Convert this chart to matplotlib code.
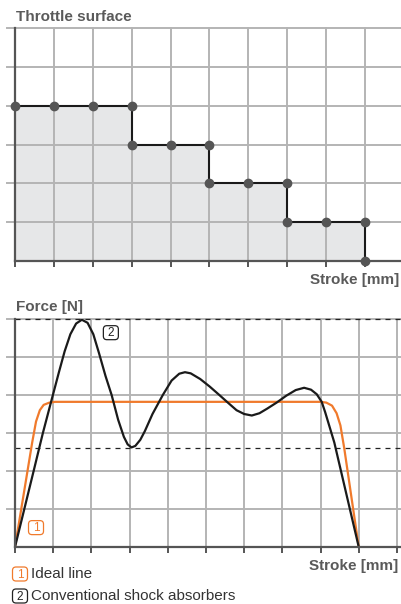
import matplotlib.pyplot as plt
from matplotlib.patches import FancyBboxPatch

plt.rcParams['font.family'] = ['Liberation Sans', 'DejaVu Sans']

# throttle surface steps (stroke position, relative area)
throttle_x = [0, 1, 2, 3, 3, 4, 5, 5, 6, 7, 7, 8, 9, 9]
throttle_y = [4, 4, 4, 4, 3, 3, 3, 2, 2, 2, 1, 1, 1, 0]

# ideal force curve
ideal_x = [0, 0.45, 0.55, 0.65, 0.75, 0.9, 1.05, 8.0, 8.15, 8.3, 8.42, 8.52, 8.62, 9.0]
ideal_y = [0, 2.75, 3.3, 3.6, 3.74, 3.8, 3.82, 3.82, 3.8, 3.72, 3.52, 3.2, 2.6, 0]

# conventional shock absorber force curve
conv_x = [0, 0.5, 0.73, 0.95, 1.15, 1.3, 1.45, 1.6, 1.75, 1.9, 2.05, 2.2, 2.37, 2.53,
          2.7, 2.85, 2.95, 3.05, 3.15, 3.28, 3.4, 3.6, 3.87, 4.1, 4.3, 4.45, 4.6,
          4.85, 5.1, 5.35, 5.55, 5.8, 6.0, 6.2, 6.4, 6.6, 6.85, 7.1, 7.35, 7.57,
          7.75, 7.9, 8.03, 8.12, 8.36, 9.0]
conv_y = [0, 2.05, 3.0, 3.84, 4.6, 5.15, 5.6, 5.88, 5.98, 5.9, 5.6, 5.1, 4.5, 4.0,
          3.35, 2.9, 2.7, 2.62, 2.66, 2.82, 3.05, 3.5, 4.0, 4.38, 4.56, 4.6, 4.57,
          4.42, 4.22, 4.0, 3.82, 3.6, 3.5, 3.46, 3.52, 3.64, 3.8, 3.98, 4.13, 4.19,
          4.14, 4.02, 3.82, 3.55, 2.75, 0]

peak_level = 6.0
min_level = 2.6

GRID = '#b4b4b4'
AXIS = '#555555'
LABEL = '#5a5a5a'
ORANGE = '#f07a2c'


def setup(ax, xmax, ngrid_x):
    ax.set_xlim(0, xmax)
    ax.set_ylim(0, 6)
    for s in ['top', 'right']:
        ax.spines[s].set_visible(False)
    for s in ['left', 'bottom']:
        ax.spines[s].set_color(AXIS)
        ax.spines[s].set_linewidth(1.6)
        ax.spines[s].set_zorder(4)
    for x in range(1, ngrid_x + 1):
        ax.axvline(x, color=GRID, lw=1.4, zorder=0.5, clip_on=False)
    for y in range(1, 7):
        ax.axhline(y, xmin=-0.02, color=GRID, lw=1.4, zorder=0.5, clip_on=False)
    ax.set_xticks(range(0, ngrid_x + 1))
    ax.set_yticks([])
    ax.set_xticklabels([])
    ax.tick_params(axis='x', direction='out', length=4, width=1.4, color=AXIS)
    ax.set_facecolor('none')


fig = plt.figure(figsize=(4.02, 6.04), dpi=100)

# --- throttle surface ---
ax1 = fig.add_axes([15 / 402, 343 / 604, 387 / 402, 233 / 604])
setup(ax1, 9.95, 9)
ax1.fill_between(throttle_x, throttle_y, color='#e6e7e8', lw=0, zorder=0.2)
ax1.plot(throttle_x, throttle_y, color='#1a1a1a', lw=1.5, zorder=3,
         marker='o', ms=6, mfc='#555555', mec='#555555', clip_on=False)
fig.text(16 / 402, 1 - 17 / 604, 'Throttle surface', fontsize=11, fontweight='bold',
         color=LABEL, ha='left', va='center')
fig.text(399 / 402, 1 - 280 / 604, 'Stroke [mm]', fontsize=11, fontweight='bold',
         color=LABEL, ha='right', va='center')

# --- force curves ---
ax2 = fig.add_axes([15 / 402, 57 / 604, 385 / 402, 228 / 604])
setup(ax2, 10.08, 10)
for lvl in [peak_level, min_level]:
    ax2.axhline(lvl, color='#222222', lw=0.9, ls=(0, (4, 4)), zorder=2, clip_on=False)
ax2.plot(ideal_x, ideal_y, color=ORANGE, lw=1.6, zorder=3, solid_capstyle='round')
ax2.plot(conv_x, conv_y, color='#1a1a1a', lw=1.6, zorder=3.5, solid_capstyle='round')


def num_box(x, y, s, color, transform):
    # small rounded box with a digit, centred at (x, y) given in `transform` coords
    px, py = transform.transform((x, y))
    cx, cy = px / fig.dpi, py / fig.dpi
    w, h = 0.15, 0.14
    box = FancyBboxPatch((cx - w / 2, cy - h / 2), w, h,
                         boxstyle='round,pad=0,rounding_size=0.035',
                         transform=fig.dpi_scale_trans, fc='white', ec=color,
                         lw=0.9, zorder=6)
    fig.patches.append(box)
    fig.text(cx, cy - 0.005, s, transform=fig.dpi_scale_trans, fontsize=8.5,
             color=color, ha='center', va='center', zorder=7)


num_box(2.51, 5.64, '2', '#222222', ax2.transData)
num_box(0.55, 0.51, '1', ORANGE, ax2.transData)

fig.text(16 / 402, 1 - 307 / 604, 'Force [N]', fontsize=11, fontweight='bold',
         color=LABEL, ha='left', va='center')
fig.text(398 / 402, 1 - 566 / 604, 'Stroke [mm]', fontsize=11, fontweight='bold',
         color=LABEL, ha='right', va='center')

# legend
num_box(20 / 402, 1 - 574 / 604, '1', ORANGE, fig.transFigure)
fig.text(31 / 402, 1 - 574 / 604, 'Ideal line', fontsize=11, color='#333333',
         ha='left', va='center')
num_box(20 / 402, 1 - 596 / 604, '2', '#222222', fig.transFigure)
fig.text(31 / 402, 1 - 596 / 604, 'Conventional shock absorbers', fontsize=11,
         color='#333333', ha='left', va='center')

fig.savefig('out.png', dpi=100)
